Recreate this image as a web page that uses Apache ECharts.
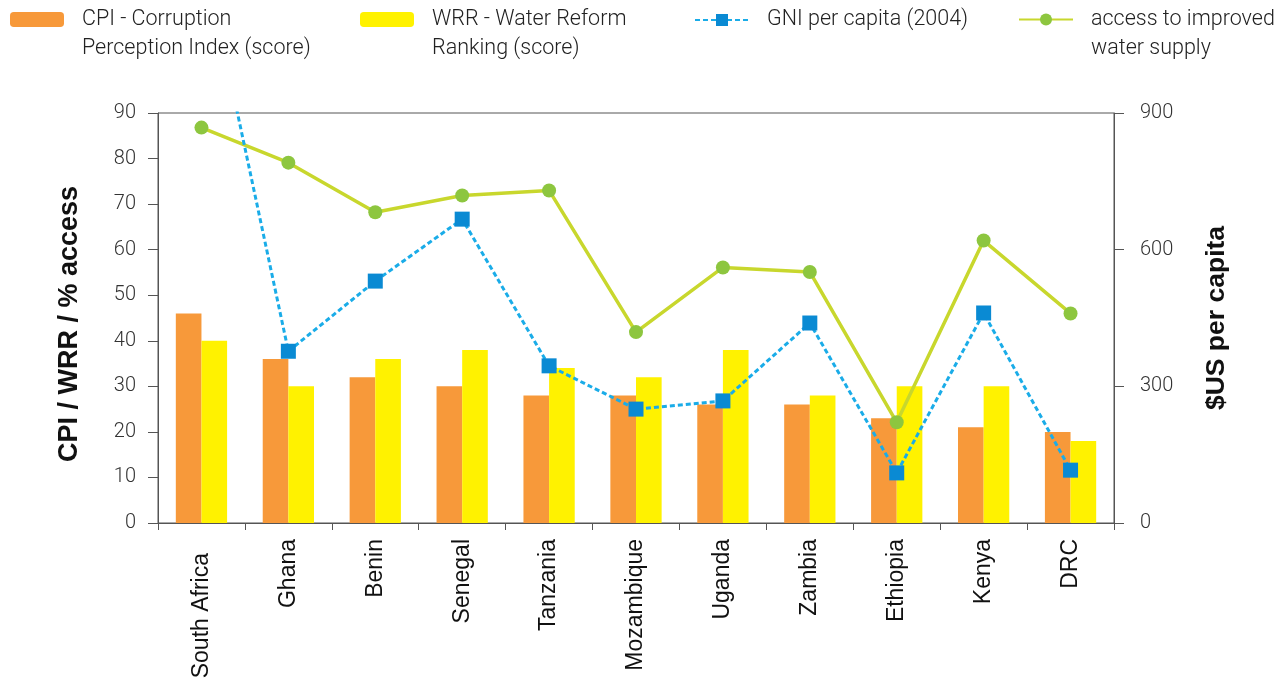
<!DOCTYPE html>
<html>
<head>
<meta charset="utf-8">
<script src="https://cdn.jsdelivr.net/npm/echarts@6/dist/echarts.min.js"></script>
<style>
  html, body { margin: 0; padding: 0; background: #fff; }
  #chart { width: 1278px; height: 683px; }
</style>
</head>
<body>
<div id="chart"></div>
<script>
  const countries = ['South Africa', 'Ghana', 'Benin', 'Senegal', 'Tanzania', 'Mozambique', 'Uganda', 'Zambia', 'Ethiopia', 'Kenya', 'DRC'];
  const cpiScore = [46, 36, 32, 30, 28, 28, 26, 26, 23, 21, 20];
  const wrrScore = [40, 30, 36, 38, 34, 32, 38, 28, 30, 30, 18];
  const gniPerCapita = [1270, 377, 531, 667, 345, 250, 268, 439, 110, 461, 116];
  const waterAccess = [86.8, 79.1, 68.2, 71.9, 73.0, 41.9, 56.1, 55.1, 22.1, 62.0, 46.0];
  const leftTicks = { min: 0, max: 90, interval: 10 };
  const rightTicks = { min: 0, max: 900, interval: 300 };

  const names = {
    cpi: 'CPI - Corruption\nPerception Index (score)',
    wrr: 'WRR - Water Reform\nRanking (score)',
    gni: 'GNI per capita (2004)',
    access: 'access to improved\nwater supply',
  };

  const lightFont = 'Roboto, "Liberation Sans", sans-serif';
  const plainFont = '"Liberation Sans", Arial, sans-serif';
  const axisColor = '#555';

  // two-line legend texts get an empty first line so the icon sits on line one
  const makeLegend = (name, left) => {
    const twoLines = name.indexOf('\n') >= 0;
    return {
      data: [name],
      left: left,
      top: twoLines ? -25.5 : 4,
      padding: 0,
      itemWidth: 54,
      itemHeight: 15,
      selectedMode: false,
      formatter: (n) => (twoLines ? ' \n' + n : n),
      textStyle: {
        fontFamily: lightFont,
        fontWeight: 300,
        fontSize: 21.5,
        color: '#222',
        lineHeight: 29,
        padding: [3, 0, 0, 13],
      },
    };
  };

  const chart = echarts.init(document.getElementById('chart'));

  const option = {
    animation: false,
    legend: [
      makeLegend(names.cpi, 10),
      makeLegend(names.wrr, 360),
      makeLegend(names.gni, 694),
      makeLegend(names.access, 1018),
    ],
    grid: {
      left: 158,
      right: 164,
      top: 113,
      bottom: 160,
      show: true,
      borderColor: axisColor,
      borderWidth: 1,
    },
    xAxis: {
      type: 'category',
      data: countries,
      axisLine: { lineStyle: { color: axisColor, width: 1 } },
      axisTick: { show: true, length: 7, lineStyle: { color: axisColor } },
      axisLabel: {
        rotate: 90,
        margin: 16,
        fontSize: 23,
        color: '#111',
        fontFamily: plainFont,
        interval: 0,
        formatter: (v) => (v === 'South Africa' ? '{sa|' + v + '}' : v),
        rich: {
          sa: { fontSize: 23, fontFamily: plainFont, color: '#111', padding: [0, 14, 0, 0] },
        },
      },
    },
    yAxis: [
      {
        type: 'value',
        min: leftTicks.min,
        max: leftTicks.max,
        interval: leftTicks.interval,
        name: 'CPI / WRR / % access',
        nameLocation: 'middle',
        nameGap: 75,
        nameTextStyle: {
          fontFamily: plainFont,
          fontWeight: 'bold',
          fontSize: 27,
          color: '#111',
          padding: [0, 12, 0, 0],
        },
        axisLine: { show: true, lineStyle: { color: axisColor } },
        axisTick: { show: true, length: 10, lineStyle: { color: axisColor } },
        axisLabel: { margin: 22, fontSize: 20, color: '#333', fontFamily: lightFont, fontWeight: 300 },
        splitLine: { show: false },
      },
      {
        type: 'value',
        position: 'right',
        min: rightTicks.min,
        max: rightTicks.max,
        interval: rightTicks.interval,
        name: '$US per capita',
        nameLocation: 'middle',
        nameGap: 89,
        nameTextStyle: { fontFamily: plainFont, fontWeight: 'bold', fontSize: 26.5, color: '#111' },
        axisLine: { show: true, lineStyle: { color: axisColor } },
        axisTick: { show: true, length: 10, lineStyle: { color: axisColor } },
        axisLabel: { margin: 26, fontSize: 20, color: '#333', fontFamily: lightFont, fontWeight: 300 },
        splitLine: { show: false },
      },
    ],
    series: [
      {
        name: names.cpi,
        type: 'bar',
        data: cpiScore,
        barGap: '0%',
        barCategoryGap: '41%',
        itemStyle: { color: '#F7993A' },
      },
      {
        name: names.wrr,
        type: 'bar',
        data: wrrScore,
        itemStyle: { color: '#FFF200' },
      },
      {
        name: names.access,
        type: 'line',
        yAxisIndex: 0,
        data: waterAccess,
        symbol: 'circle',
        symbolSize: 14,
        lineStyle: { color: '#C8D72D', width: 3.5 },
        itemStyle: { color: '#8DC63F' },
        z: 3,
      },
      {
        name: names.gni,
        type: 'line',
        yAxisIndex: 1,
        data: gniPerCapita,
        clip: true,
        symbol: 'rect',
        symbolSize: 15,
        lineStyle: { color: '#1AACE8', width: 3, type: [5, 3] },
        itemStyle: { color: '#0A8AD3' },
        z: 4,
      },
    ],
  };

  chart.setOption(option);
</script>
</body>
</html>
